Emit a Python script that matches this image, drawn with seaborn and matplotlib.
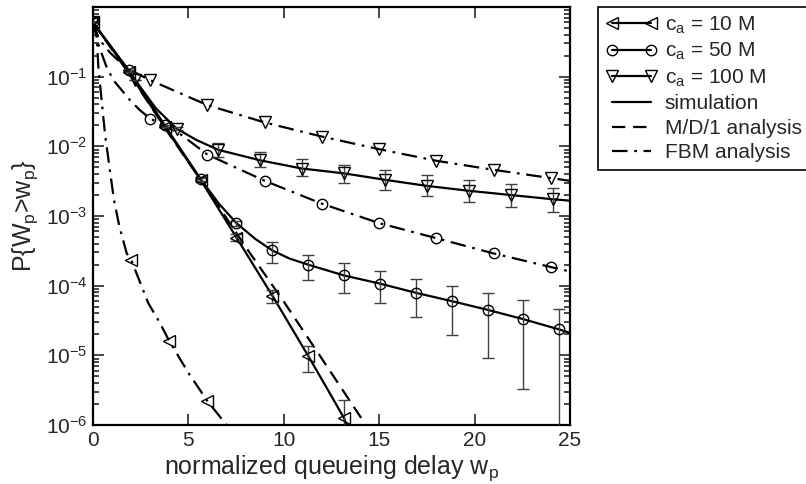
import numpy as np
import matplotlib
matplotlib.use('Agg')
import matplotlib.pyplot as plt
from matplotlib.lines import Line2D
from matplotlib.ticker import LogLocator, NullFormatter, FixedLocator, NullLocator
import seaborn as sns

sns.set_style('ticks')
plt.rcParams['font.family'] = ['Liberation Sans', 'DejaVu Sans']
plt.rcParams['mathtext.fontset'] = 'custom'
plt.rcParams['mathtext.rm'] = 'Liberation Sans'
plt.rcParams['mathtext.it'] = 'Liberation Sans:italic'

# simulation, c_a = 10 M (marker points + error bars)
x_sim10 = [0, 1.88, 3.76, 5.64, 7.52, 9.40, 11.28, 13.16]
p_sim10 = [0.6, 0.115, 0.019, 3.3e-3, 4.9e-4, 7.2e-5, 9.8e-6, 1.25e-6]
hi_sim10 = [0.6, 0.115, 0.019, 3.5e-3, 5.5e-4, 8.7e-5, 1.38e-5, 2.3e-6]
lo_sim10 = [0.6, 0.115, 0.019, 3.1e-3, 4.4e-4, 5.6e-5, 5.8e-6, 5e-7]
xl_sim10 = [0, 1.88, 3.76, 5.64, 7.52, 9.40, 11.28, 12.2, 13.16, 13.8]
pl_sim10 = [0.6, 0.115, 0.019, 3.3e-3, 4.9e-4, 7.2e-5, 9.8e-6, 3.6e-6, 1.25e-6, 4e-7]

# simulation, c_a = 50 M
x_sim50 = [0, 1.88, 3.76, 5.64, 7.52, 9.40, 11.28, 13.16, 15.04, 16.92, 18.80, 20.68, 22.56, 24.44]
p_sim50 = [0.6, 0.123, 0.020, 3.4e-3, 7.9e-4, 3.2e-4, 2.0e-4, 1.4e-4, 1.07e-4, 7.9e-5, 6.0e-5, 4.5e-5, 3.3e-5, 2.35e-5]
hi_sim50 = [0.6, 0.123, 0.020, 3.6e-3, 8.6e-4, 4.2e-4, 2.75e-4, 2.1e-4, 1.62e-4, 1.26e-4, 1.0e-4, 7.9e-5, 6.3e-5, 4.7e-5]
lo_sim50 = [0.6, 0.123, 0.020, 3.2e-3, 7.2e-4, 2.15e-4, 1.2e-4, 7.9e-5, 5.6e-5, 3.5e-5, 1.95e-5, 9.3e-6, 3.3e-6, 5e-7]
xl_sim50 = [0, 1.88, 3.76, 5.64, 6.6, 7.52, 8.5, 9.40, 10.3, 11.28, 13.16, 15.04, 16.92, 18.80, 20.68, 22.56, 24.44, 25]
pl_sim50 = [0.6, 0.123, 0.020, 3.4e-3, 1.5e-3, 7.9e-4, 4.7e-4, 3.2e-4, 2.45e-4, 2.0e-4, 1.4e-4, 1.07e-4, 7.9e-5, 6.0e-5, 4.5e-5, 3.3e-5, 2.35e-5, 2.1e-5]

# simulation, c_a = 100 M
x_sim100 = [0, 2.19, 4.38, 6.57, 8.76, 10.95, 13.14, 15.33, 17.52, 19.71, 21.90, 24.09]
p_sim100 = [0.6, 0.091, 0.018, 8.9e-3, 6.3e-3, 4.8e-3, 4.1e-3, 3.3e-3, 2.7e-3, 2.3e-3, 2.0e-3, 1.74e-3]
hi_sim100 = [0.6, 0.091, 0.019, 0.011, 8.3e-3, 6.6e-3, 5.4e-3, 4.5e-3, 3.9e-3, 3.3e-3, 2.9e-3, 2.5e-3]
lo_sim100 = [0.6, 0.091, 0.017, 7.1e-3, 5.1e-3, 3.8e-3, 3.0e-3, 2.35e-3, 1.95e-3, 1.6e-3, 1.35e-3, 1.15e-3]
xl_sim100 = [0, 2.19, 3.3, 4.38, 5.43, 6.57, 8.76, 10.95, 13.14, 15.33, 17.52, 19.71, 21.90, 24.09, 25]
pl_sim100 = [0.6, 0.091, 0.035, 0.018, 0.0123, 8.9e-3, 6.3e-3, 4.8e-3, 4.1e-3, 3.3e-3, 2.7e-3, 2.3e-3, 2.0e-3, 1.74e-3, 1.66e-3]

# M/D/1 analysis
x_md1 = [0, 2, 4, 6, 8, 10, 12, 14.3]
p_md1 = [0.6, 0.1, 0.0148, 2.4e-3, 3.6e-4, 5.9e-5, 8.9e-6, 1e-6]

# FBM analysis
xl_fbm10 = [0, 0.1, 0.19, 0.28, 0.45, 0.63, 0.86, 1.10, 1.38, 1.77, 2, 2.9, 3.51, 4, 5, 6, 7.0]
pl_fbm10 = [0.6, 0.56, 0.42, 0.138, 0.046, 0.015, 5.1e-3, 1.7e-3, 7.1e-4, 2.9e-4, 2.35e-4, 5.6e-5, 2.9e-5, 1.6e-5, 5.6e-6, 2.2e-6, 1e-6]
x_fbm10 = [2, 4, 6]
p_fbm10 = [2.35e-4, 1.6e-5, 2.2e-6]

xl_fbm50 = [0, 0.3, 0.7, 1.07, 1.94, 2.46, 3, 4.56, 6, 9, 12, 15, 18, 21, 24, 25]
pl_fbm50 = [0.6, 0.28, 0.14, 0.089, 0.046, 0.033, 0.025, 0.0151, 7.6e-3, 3.2e-3, 1.5e-3, 7.9e-4, 4.8e-4, 2.9e-4, 1.85e-4, 1.6e-4]
x_fbm50 = [3, 6, 9, 12, 15, 18, 21, 24]
p_fbm50 = [0.025, 7.6e-3, 3.2e-3, 1.5e-3, 7.9e-4, 4.8e-4, 2.9e-4, 1.85e-4]

xl_fbm100 = [0, 0.3, 0.9, 1.6, 2.2, 3, 6, 9, 12, 15, 18, 21, 24, 25]
pl_fbm100 = [0.6, 0.35, 0.22, 0.145, 0.115, 0.089, 0.039, 0.022, 0.0138, 9.1e-3, 6.2e-3, 4.6e-3, 3.5e-3, 3.2e-3]
x_fbm100 = [3, 6, 9, 12, 15, 18, 21, 24]
p_fbm100 = [0.089, 0.039, 0.022, 0.0138, 9.1e-3, 6.2e-3, 4.6e-3, 3.5e-3]

y_ticks = [1e-6, 1e-5, 1e-4, 1e-3, 1e-2, 1e-1]
x_ticks = [0, 5, 10, 15, 20, 25]

fig = plt.figure(figsize=(8.06, 4.84), dpi=100)
ax = fig.add_axes([93 / 806, 1 - 425 / 484, 477 / 806, 418 / 484])

dashdot = (0, (7, 3, 1.2, 3))
lw = 1.6

# lines
for xs, ps in [(xl_sim10, pl_sim10), (xl_sim50, pl_sim50), (xl_sim100, pl_sim100)]:
    sns.lineplot(x=xs, y=ps, ax=ax, color='k', lw=lw, estimator=None, sort=False)
sns.lineplot(x=x_md1, y=p_md1, ax=ax, color='k', lw=lw, linestyle=(0, (6, 3.5)),
             estimator=None, sort=False)
for xs, ps in [(xl_fbm10, pl_fbm10), (xl_fbm50, pl_fbm50), (xl_fbm100, pl_fbm100)]:
    sns.lineplot(x=xs, y=ps, ax=ax, color='k', lw=lw, linestyle=dashdot, estimator=None, sort=False)

# error bars + markers
mk = dict(ls='none', mfc='none', mec='k', mew=1.0, zorder=4)
for xs, ps, hi, lo, m in [(x_sim10, p_sim10, hi_sim10, lo_sim10, '<'),
                          (x_sim50, p_sim50, hi_sim50, lo_sim50, 'o'),
                          (x_sim100, p_sim100, hi_sim100, lo_sim100, 'v')]:
    ps = np.array(ps)
    ax.errorbar(xs, ps, yerr=[ps - np.array(lo), np.array(hi) - ps], fmt='none',
                ecolor='0.25', elinewidth=1.0, capsize=4.5, capthick=1.0, zorder=3)
    ax.plot(xs, ps, marker=m, ms=8 if m != 'o' else 7.5, **mk)
ax.plot(x_fbm10, p_fbm10, marker='<', ms=8, **mk)
ax.plot(x_fbm50, p_fbm50, marker='o', ms=7.5, **mk)
ax.plot(x_fbm100, p_fbm100, marker='v', ms=8, **mk)

ax.set_yscale('log')
ax.set_xlim(0, 25)
ax.set_ylim(1e-6, 1)
ax.xaxis.set_major_locator(FixedLocator(x_ticks))
ax.xaxis.set_minor_locator(NullLocator())
ax.yaxis.set_major_locator(FixedLocator(y_ticks))
ax.yaxis.set_minor_locator(LogLocator(base=10, subs=np.arange(2, 10)))
ax.yaxis.set_minor_formatter(NullFormatter())
ax.set_yticklabels([r'10$^{\mathregular{%d}}$' % e for e in range(-6, 0)])
ax.tick_params(which='both', direction='in', top=True, right=True, width=1.2, labelsize=15)
ax.tick_params(which='major', length=8, pad=4)
ax.tick_params(which='minor', length=4)
for s in ax.spines.values():
    s.set_linewidth(1.6)
    s.set_color('k')

ax.set_xlabel(r'normalized queueing delay w$_\mathregular{p}$', fontsize=18, labelpad=3)
ax.set_ylabel(r'P{W$_\mathregular{p}$>w$_\mathregular{p}$}', fontsize=18, labelpad=4)

handles = [
    Line2D([], [], color='k', lw=lw, marker='<', mfc='none', mec='k', ms=8),
    Line2D([], [], color='k', lw=lw, marker='o', mfc='none', mec='k', ms=7.5),
    Line2D([], [], color='k', lw=lw, marker='v', mfc='none', mec='k', ms=8),
    Line2D([], [], color='k', lw=lw),
    Line2D([], [], color='k', lw=lw, linestyle=(0, (6, 3.5))),
    Line2D([], [], color='k', lw=lw, linestyle=dashdot),
]
labels = [r'c$_\mathregular{a}$ = 10 M', r'c$_\mathregular{a}$ = 50 M', r'c$_\mathregular{a}$ = 100 M',
          'simulation', 'M/D/1 analysis', 'FBM analysis']
leg = fig.legend(handles, labels, loc='upper left', bbox_to_anchor=(598 / 806, 1 - 7 / 484),
                 numpoints=2, fontsize=15, frameon=True, fancybox=False, framealpha=1,
                 edgecolor='k', handlelength=2.5, handletextpad=0.35, labelspacing=0.26,
                 borderpad=0.35, borderaxespad=0)
leg.get_frame().set_linewidth(1.2)

fig.savefig('out.png', dpi=100)
